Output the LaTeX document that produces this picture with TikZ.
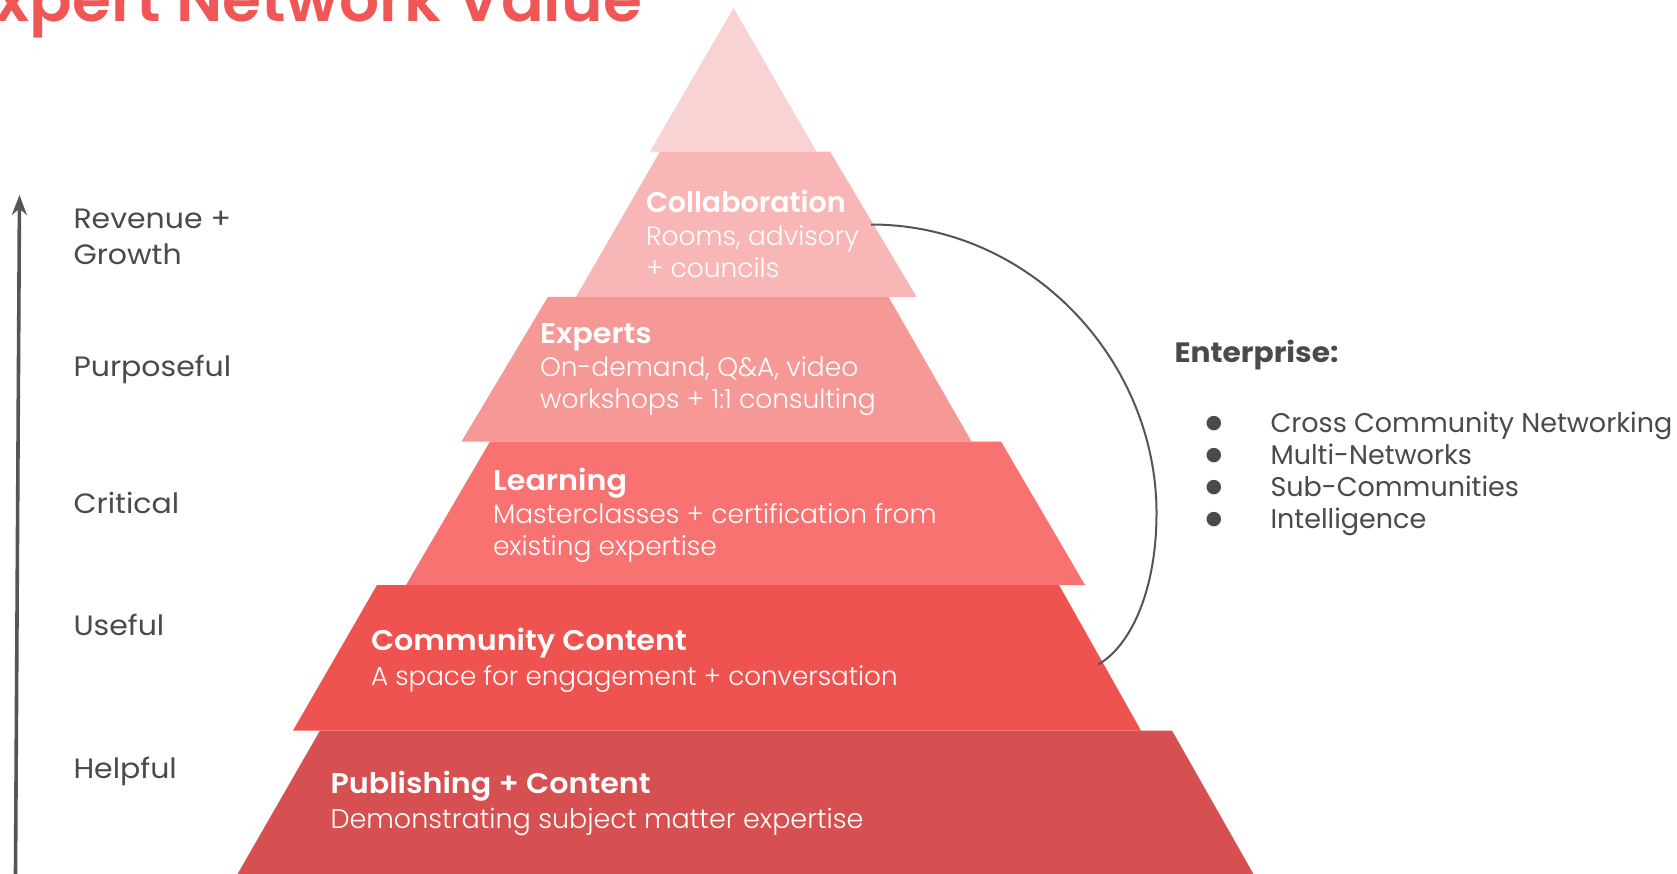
\documentclass[tikz,border=0pt]{standalone}
\usepackage{fontspec}
\usetikzlibrary{arrows.meta}
\IfFontExistsTF{Poppins Light}{\newfontfamily\fLight{Poppins Light}}{\newfontfamily\fLight{Poppins}}
\IfFontExistsTF{Poppins SemiBold}{\newfontfamily\fBold{Poppins SemiBold}[FakeStretch=1.06]}{\newfontfamily\fBold{Poppins}[FakeStretch=1.06]}
\IfFontExistsTF{Poppins SemiBold}{\newfontfamily\fBoldN{Poppins SemiBold}}{\newfontfamily\fBoldN{Poppins}}
\IfFontExistsTF{Poppins Bold}{\newfontfamily\fHeavy{Poppins Bold}[FakeStretch=1.06]}{\newfontfamily\fHeavy{Poppins}[FakeStretch=1.06]}
\newfontfamily\fReg{Poppins}[FakeStretch=1.07]
\newfontfamily\fRegN{Poppins}
\newfontfamily\fSym{DejaVu Sans}
\definecolor{cTop}{HTML}{F9D2D3}
\definecolor{cCol}{HTML}{F9B6B6}
\definecolor{cExp}{HTML}{F69896}
\definecolor{cLrn}{HTML}{F87272}
\definecolor{cCom}{HTML}{EE5350}
\definecolor{cPub}{HTML}{D75051}
\definecolor{cTitle}{HTML}{F05656}
\definecolor{txtgray}{HTML}{4A4A4A}
\definecolor{lngray}{HTML}{555555}
\begin{document}
\begin{tikzpicture}[x=1pt,y=-1pt,
  every node/.style={inner sep=0pt, outer sep=0pt},
  lvlhead/.style={anchor=base west, text=white, font=\fBold\fontsize{28.5}{32}\selectfont},
  lvldesc/.style={anchor=base west, text=white, font=\fLight\fontsize{26.5}{32}\selectfont},
  sidelbl/.style={anchor=base west, text=txtgray, font=\fReg\fontsize{28}{32}\selectfont},
  bulletmk/.style={anchor=base, text=txtgray, font=\fSym\fontsize{19}{19}\selectfont},
  bullettxt/.style={anchor=base west, text=txtgray, font=\fRegN\fontsize{27}{32}\selectfont}]
\useasboundingbox (0,0) rectangle (1677,873);
\clip (0,0) rectangle (1677,873);
\fill[white] (0,0) rectangle (1677,873);
% title
\node[anchor=base east, text=cTitle, font=\fBoldN\fontsize{63}{63}\selectfont] (title) at (642,21) {Expert Network Value};
% pyramid layers
\fill[cTop] (733.5,8) -- (816.5,151.5) -- (650,151.5) -- cycle;
\fill[cCol] (660,151.5) -- (830,151.5) -- (916.5,296.8) -- (576,296.8) -- cycle;
\fill[cExp] (548,296.8) -- (888.5,296.8) -- (971.5,441.5) -- (461.5,441.5) -- cycle;
\fill[cLrn] (490,441.5) -- (1001,441.5) -- (1085,585) -- (406,585) -- cycle;
\fill[cCom] (377,585) -- (1059,585) -- (1141,730.5) -- (293,730.5) -- cycle;
\fill[cPub] (320,730.5) -- (1172,730.5) -- (1254,875) -- (237,875) -- cycle;
% layer texts
\node[lvlhead, font=\fBoldN\fontsize{28.5}{32}\selectfont] (colh) at (646,212) {Collaboration};
\node[lvldesc] (cold1) at (646,245) {Rooms, advisory};
\node[lvldesc] (cold2) at (646,277) {+ councils};
\node[lvlhead] (exph) at (540,343.5) {Experts};
\node[lvldesc] (expd1) at (540,376.5) {On-demand, Q\&A, video};
\node[lvldesc] (expd2) at (540,408) {workshops + 1:1 consulting};
\node[lvlhead] (lrnh) at (493,490.5) {Learning};
\node[lvldesc] (lrnd1) at (493,523.5) {Masterclasses + certification from};
\node[lvldesc] (lrnd2) at (493,555) {existing expertise};
\node[lvlhead] (comh) at (371,650.5) {Community Content};
\node[lvldesc, font=\fLight\fontsize{26.2}{32}\selectfont] (comd1) at (371,685.5) {A space for engagement + conversation};
\node[lvlhead] (pubh) at (330.5,793) {Publishing + Content};
\node[lvldesc, font=\fLight\fontsize{27}{32}\selectfont] (pubd1) at (330.5,828) {Demonstrating subject matter expertise};
% left axis
\coordinate (axbot) at (15.5,875);
\coordinate (axtop) at (19.5,195);
\draw[lngray, line width=3.6pt, -{Stealth[length=20pt,width=15pt]}] (axbot) -- (axtop);
\node[sidelbl] (l1a) at (73.5,228) {Revenue +};
\node[sidelbl] (l1b) at (73.5,264) {Growth};
\node[sidelbl] (l2) at (73.5,376) {Purposeful};
\node[sidelbl] (l3) at (73.5,513) {Critical};
\node[sidelbl] (l4) at (73.5,635) {Useful};
\node[sidelbl] (l5) at (73.5,778) {Helpful};
% bracket curve
\coordinate (cs) at (871,224.5);
\coordinate (cm) at (1156.5,513);
\coordinate (ce) at (1098,664.5);
\draw[lngray, line width=2pt] (cs) .. controls (1030,224.5) and (1156.5,360) .. (cm)
  .. controls (1156.5,595) and (1128,648) .. (ce);
% enterprise
\node[anchor=base west, text=txtgray, font=\fHeavy\fontsize{28}{32}\selectfont] (ent) at (1174.5,362) {Enterprise:};
\node[bulletmk] (b1) at (1214,428) {●};
\node[bulletmk] (b2) at (1214,460) {●};
\node[bulletmk] (b3) at (1214,492) {●};
\node[bulletmk] (b4) at (1214,524) {●};
\node[bullettxt] (t1) at (1270.5,432.5) {Cross Community Networking};
\node[bullettxt] (t2) at (1270.5,464.5) {Multi-Networks};
\node[bullettxt] (t3) at (1270.5,496.5) {Sub-Communities};
\node[bullettxt] (t4) at (1270.5,528.5) {Intelligence};
\end{tikzpicture}
\end{document}
